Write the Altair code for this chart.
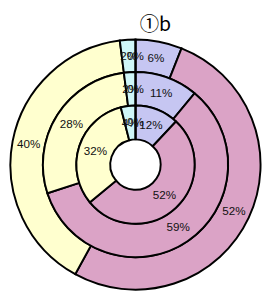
import altair as alt
import pandas as pd

categories = ["blue", "pink", "yellow", "teal", "zero"]
outer_vals = [6, 52, 40, 2, 0]
middle_vals = [11, 59, 28, 2, 0]
inner_vals = [12, 52, 32, 4, 0]
labels_outer = ["6%", "52%", "40%", "2%", "0%"]
labels_middle = ["11%", "59%", "28%", "2%", "0%"]
labels_inner = ["12%", "52%", "32%", "4%", "0%"]
colors = ["#C6C6F2", "#DBA3C6", "#FFFFCF", "#CFF6F8", "#FFFFFF"]
title_text = "①b"

rings = [
    ("outer", outer_vals, labels_outer, 95.5, 129),
    ("middle", middle_vals, labels_middle, 61, 95.5),
    ("inner", inner_vals, labels_inner, 26, 61),
]

CX, CY = 131.5, 157

layers = []
for name, vals, labs, r_in, r_out in rings:
    df = pd.DataFrame({
        "cat": categories,
        "value": vals,
        "label": labs,
        "ord": list(range(len(categories))),
    })
    base = alt.Chart(df).encode(
        theta=alt.Theta("value:Q", stack=True, scale=alt.Scale(domain=[0, 100])),
        order=alt.Order("ord:Q"),
        x=alt.value(CX),
        y=alt.value(CY),
    )
    arc = base.mark_arc(stroke="black", strokeWidth=2).encode(
        radius=alt.value(r_out),
        radius2=alt.value(r_in),
        color=alt.Color("cat:N", scale=alt.Scale(domain=categories, range=colors), legend=None),
    )
    text = base.mark_text(font="Liberation Sans", fontSize=12, color="#111111").encode(
        radius=alt.value((r_in + r_out) / 2),
        text="label:N",
    )
    layers.append(arc)
    layers.append(text)

title_df = pd.DataFrame({"t": [title_text]})
title = alt.Chart(title_df).mark_text(
    font="Noto Sans CJK JP", fontSize=20, color="#000000", align="center", baseline="middle"
).encode(x=alt.value(152), y=alt.value(13), text="t:N")
layers.append(title)

chart = alt.layer(*layers).properties(
    width=262, height=288, padding=0, autosize=alt.AutoSizeParams(type="none")
).configure_view(stroke=None)

chart.save("out.html", embed_options={"renderer": "svg", "actions": False})
